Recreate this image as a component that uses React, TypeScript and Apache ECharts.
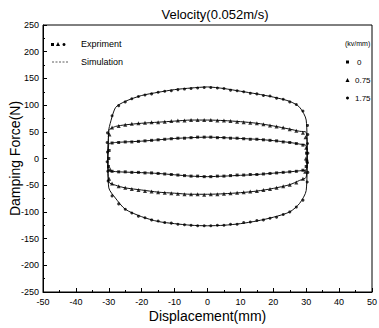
import React, { useEffect, useRef } from "react";
import * as echarts from "echarts";

const TITLE = "Velocity(0.052m/s)";
const X_NAME = "Displacement(mm)";
const Y_NAME = "Damping Force(N)";
const FIELD_LABELS = ["0", "0.75", "1.75"];

// Experimental sample positions (mm)
const X_EXP = [-29, -27, -25, -23, -21, -19, -17, -15, -13, -11, -9, -7, -5, -3, -1, 1, 3, 5, 7, 9, 11, 13, 15, 17, 19, 21, 23, 25, 27, 29];

// 1.75 kv/mm experiment
const E175_UP = [80, 99, 106, 112, 116, 119, 121, 124, 126, 127, 129, 130, 131, 132, 133, 133, 132, 131, 128, 127, 125, 122, 121, 118, 117, 113, 111, 106, 101, 89];
const E175_LOW = [-70, -85, -95, -102, -108, -111, -115, -117, -120, -121, -123, -124, -125, -126, -126, -126, -125, -125, -123, -123, -120, -119, -116, -115, -112, -110, -105, -100, -91, -78];
const E175_SIDE_X = [30.4, 30.5, 30.4, 30.5, 30.4, 30.5, 30.3, -30.4, -30.5, -30.4, -30.5, -30.3, -30.2];
const E175_SIDE_Y = [62, 45, 28, 10, -8, -26, -44, 48, 30, 12, -6, -24, -42];

// 0.75 kv/mm experiment
const E075_UP = [58, 61, 63, 65, 66, 67, 68, 68, 69, 70, 71, 71, 72, 72, 72, 72, 71, 71, 70, 69, 68, 67, 66, 64, 62, 60, 58, 55, 52, 48];
const E075_LOW = [-47, -52, -55, -57, -59, -61, -62, -63, -64, -65, -66, -67, -67, -67, -68, -67, -67, -66, -65, -64, -63, -62, -61, -59, -57, -55, -52, -49, -45, -38];
const E075_SIDE_X = [29.8, 30.0, 29.9, 29.7, -29.8, -29.6, -29.9];
const E075_SIDE_Y = [40, 20, 0, -25, 45, -20, -38];

// 0 kv/mm experiment
const E0_UP = [29, 30, 31, 31, 32, 33, 34, 35, 36, 37, 38, 38, 39, 40, 40, 40, 39, 39, 38, 38, 37, 36, 36, 35, 34, 33, 31, 30, 28, 25];
const E0_LOW = [-24, -25, -25, -26, -26, -27, -27, -28, -29, -30, -31, -32, -33, -33, -34, -34, -33, -33, -32, -31, -31, -30, -30, -29, -28, -27, -26, -25, -24, -22];
const E0_SIDE_X = [30.1, 30.2, 30.0, -29.9, -30.0, -30.1];
const E0_SIDE_Y = [10, -5, -15, 15, 0, -15];

// Simulation loops (closed, drawn in order)
const SIM_X = [-30, -28, -25, -20, -15, -10, -5, 0, 5, 10, 15, 20, 25, 28, 30, 30.3, 30, 28, 25, 20, 15, 10, 5, 0, -5, -10, -15, -20, -25, -28, -30, -30.3, -30];
const S175 = [55, 95, 107, 118, 124, 129, 132, 134, 131, 126, 121, 115, 107, 96, 72, 6, -60, -84, -100, -110, -117, -122, -125, -126, -125, -122, -118, -109, -95, -74, -55, 0, 55];
const S075 = [54, 60, 63, 66, 68, 70, 72, 72, 71, 69, 66, 61, 55, 51, 49, 7, -35, -41, -49, -56, -61, -64, -66, -67, -67, -65, -63, -59, -55, -50, -44, 5, 54];
const S0 = [28, 30, 31, 32.5, 35, 37.5, 39, 40, 39, 37.5, 36, 33.5, 30, 27, 24, 1, -21, -23, -25, -27.5, -30, -31.5, -33, -34, -33, -30.5, -28, -26.5, -25.5, -24.5, -23, 2, 28];

const FONT = "'Liberation Sans', Arial, Helvetica, sans-serif";

function expData(up: number[], low: number[], sx: number[], sy: number[]) {
  const d: number[][] = [];
  X_EXP.forEach((x, i) => d.push([x, up[i]]));
  X_EXP.forEach((x, i) => d.push([x, low[i]]));
  sx.forEach((x, i) => d.push([x, sy[i]]));
  return d;
}

export default function App() {
  const ref = useRef<HTMLDivElement>(null);
  useEffect(() => {
    if (!ref.current) return;
    const chart = echarts.init(ref.current, null, { renderer: "svg" });
    const simLine = (vals: number[]) => ({
      type: "line",
      data: SIM_X.map((x, i) => [x, vals[i]]),
      showSymbol: false,
      smooth: 0.25,
      lineStyle: { color: "#111", width: 1 },
      silent: true,
      z: 2,
    });
    const scat = (name: string, symbol: string, size: number, data: number[][]) => ({
      type: "scatter",
      name,
      symbol,
      symbolSize: size,
      data,
      itemStyle: { color: "#000" },
      silent: true,
      z: 3,
    });
    chart.setOption({
      animation: false,
      backgroundColor: "#fff",
      title: {
        text: TITLE,
        left: 210,
        textAlign: "center",
        top: 3,
        textStyle: { fontFamily: FONT, fontSize: 13, fontWeight: "normal", color: "#000" },
      },
      grid: { left: 43, right: 7, top: 25, bottom: 36, show: true, borderColor: "#000", borderWidth: 1, outerBoundsMode: "none", containLabel: false },
      xAxis: {
        type: "value",
        min: -50,
        max: 50,
        interval: 10,
        name: X_NAME,
        nameLocation: "middle",
        nameGap: 17,
        nameMoveOverlap: false,
        nameTextStyle: { fontFamily: FONT, fontSize: 14, color: "#000" },
        axisLine: { onZero: false, lineStyle: { color: "#000" } },
        axisTick: { inside: true, length: 4, lineStyle: { color: "#000" } },
        minorTick: { show: true, splitNumber: 2, length: 2, lineStyle: { color: "#000" } },
        splitLine: { show: false },
        axisLabel: { fontFamily: FONT, fontSize: 9, color: "#000", margin: 5 },
      },
      yAxis: {
        type: "value",
        min: -250,
        max: 250,
        interval: 50,
        name: Y_NAME,
        nameLocation: "middle",
        nameGap: 21,
        nameMoveOverlap: false,
        nameTextStyle: { fontFamily: FONT, fontSize: 14, color: "#000" },
        axisLine: { show: true, onZero: false, lineStyle: { color: "#000" } },
        axisTick: { show: true, inside: true, length: 4, lineStyle: { color: "#000" } },
        minorTick: { show: true, splitNumber: 2, length: 2, lineStyle: { color: "#000" } },
        splitLine: { show: false },
        axisLabel: { fontFamily: FONT, fontSize: 9, color: "#000", margin: 4 },
      },
      series: [
        simLine(S175),
        simLine(S075),
        simLine(S0),
        scat(FIELD_LABELS[0], "rect", 3, expData(E0_UP, E0_LOW, E0_SIDE_X, E0_SIDE_Y)),
        scat(FIELD_LABELS[1], "triangle", 4, expData(E075_UP, E075_LOW, E075_SIDE_X, E075_SIDE_Y)),
        scat(FIELD_LABELS[2], "circle", 3, expData(E175_UP, E175_LOW, E175_SIDE_X, E175_SIDE_Y)),
      ],
      graphic: [
        { type: "rect", shape: { x: 51, y: 43, width: 3, height: 3 }, style: { fill: "#000" } },
        { type: "polygon", shape: { points: [[58, 42], [56, 46], [60, 46]] }, style: { fill: "#000" } },
        { type: "circle", shape: { cx: 64, cy: 44.5, r: 1.5 }, style: { fill: "#000" } },
        { type: "text", x: 81, y: 44, style: { text: "Expriment", font: `9px ${FONT}`, fill: "#000", verticalAlign: "middle" } },
        { type: "line", shape: { x1: 52, y1: 62, x2: 68, y2: 62 }, style: { stroke: "#333", lineWidth: 0.8, lineDash: [2, 1.5] } },
        { type: "text", x: 81, y: 62, style: { text: "Simulation", font: `9px ${FONT}`, fill: "#000", verticalAlign: "middle" } },
        { type: "text", x: 345, y: 43, style: { text: "(kv/mm)", font: `7px ${FONT}`, fill: "#000", verticalAlign: "middle" } },
        { type: "rect", shape: { x: 346, y: 60.5, width: 3, height: 3 }, style: { fill: "#000" } },
        { type: "text", x: 357, y: 62, style: { text: FIELD_LABELS[0], font: `8px ${FONT}`, fill: "#000", verticalAlign: "middle" } },
        { type: "polygon", shape: { points: [[347.5, 78], [345.5, 82], [349.5, 82]] }, style: { fill: "#000" } },
        { type: "text", x: 355, y: 80, style: { text: FIELD_LABELS[1], font: `8px ${FONT}`, fill: "#000", verticalAlign: "middle" } },
        { type: "circle", shape: { cx: 347.5, cy: 98, r: 1.5 }, style: { fill: "#000" } },
        { type: "text", x: 355, y: 98, style: { text: FIELD_LABELS[2], font: `8px ${FONT}`, fill: "#000", verticalAlign: "middle" } },
      ],
    });
    return () => chart.dispose();
  }, []);
  return <div ref={ref} style={{ width: 379, height: 328, position: "absolute", left: 0, top: 0 }} />;
}
